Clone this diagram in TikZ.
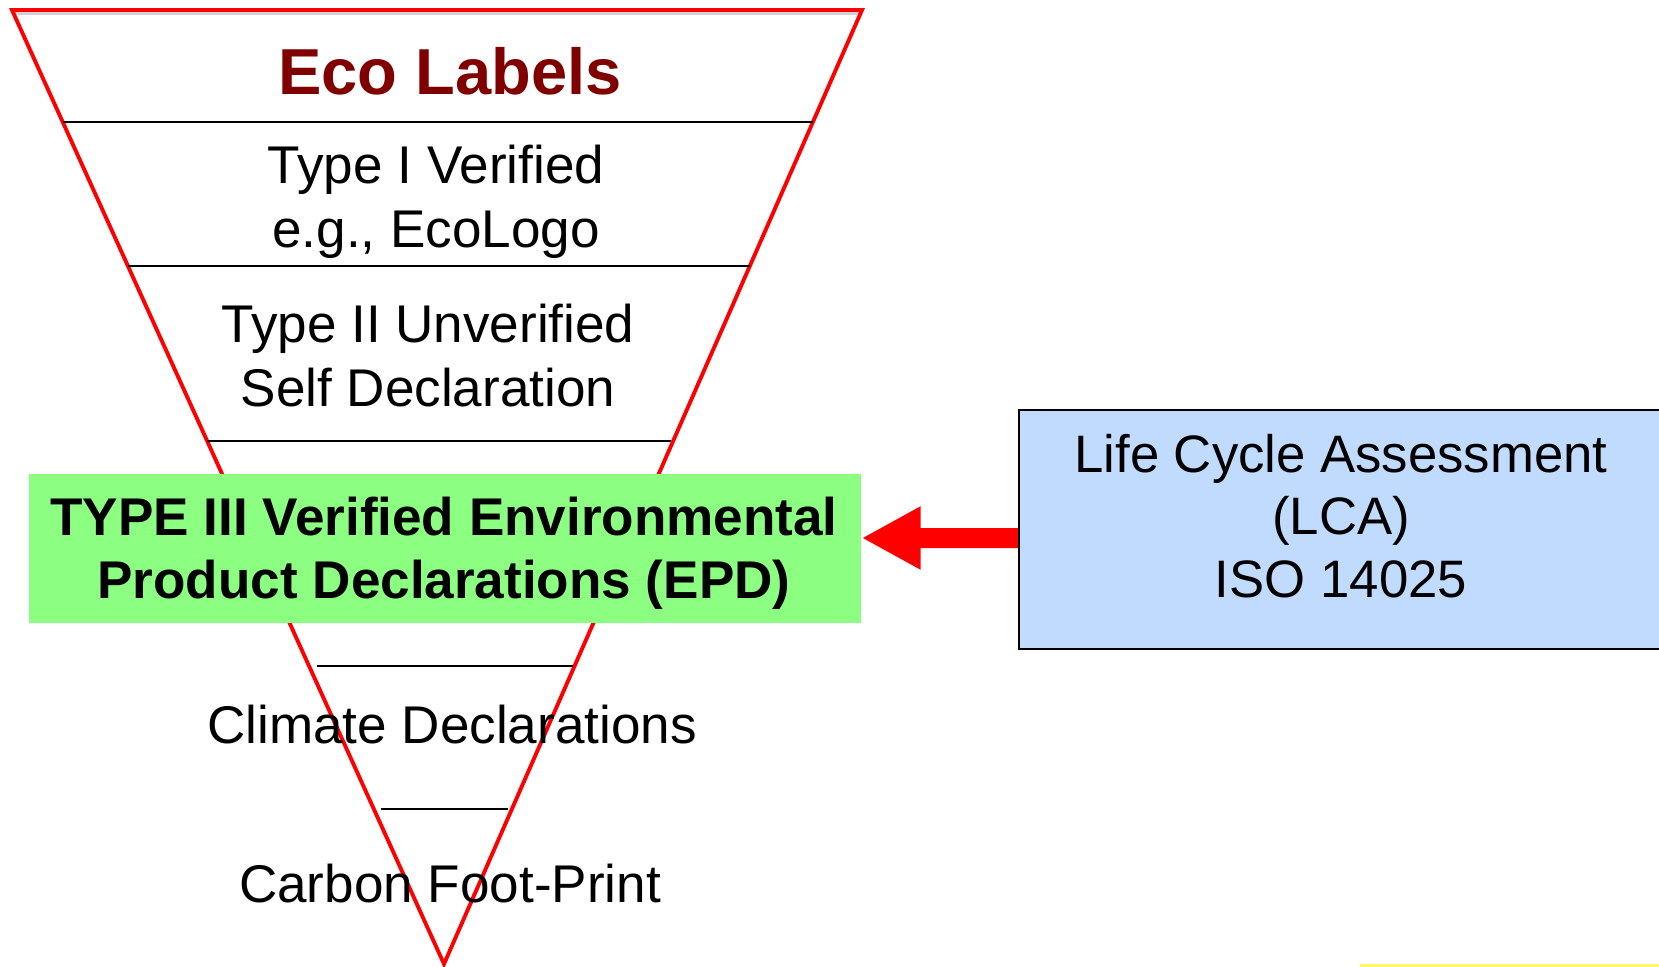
\documentclass[tikz,border=0pt]{standalone}
\usepackage{fontspec}
\setmainfont{Liberation Sans}
\usetikzlibrary{arrows.meta}
\usetikzlibrary{positioning}
\definecolor{ecored}{RGB}{128,0,0}
\definecolor{epdgreen}{RGB}{140,255,130}
\definecolor{lcablue}{RGB}{193,219,255}

\begin{document}
\begin{tikzpicture}[
  lvltext/.style={font=\fontsize{15.1}{18.2}\selectfont, align=center, inner sep=0pt},
  sepline/.style={black, line width=0.55pt},
  boldtext/.style={font=\bfseries\fontsize{15.1}{17.9}\selectfont, align=center, inner sep=0pt}
]
\useasboundingbox (0,0) rectangle (16.59,-9.67);
% funnel
\draw[gray!35, line width=1.1pt] (0.14,-0.13) -- (8.62,-0.13);
\draw[red, line width=1.1pt] (0.12,-0.10) -- (8.62,-0.10) -- (4.44,-9.64) -- cycle;
\draw[sepline] (0.63,-1.22) -- (8.13,-1.22);
\draw[sepline] (1.28,-2.66) -- (7.50,-2.66);
\draw[sepline] (2.07,-4.41) -- (6.71,-4.41);
\draw[sepline] (3.17,-6.66) -- (5.73,-6.66);
\draw[sepline] (3.81,-8.09) -- (5.08,-8.09);

\node[font=\bfseries\fontsize{18.5}{22}\selectfont, text=ecored, inner sep=0pt] (title) at (4.50,-0.715) {Eco Labels};
\node[lvltext] (typeone) at (4.36,-2.015) {Type I Verified\\e.g., EcoLogo};
\node[lvltext] (typetwo) at (4.28,-3.555) {Type II Unverified\\Self Declaration};

% type III band
\node[fill=epdgreen, minimum width=8.32cm, minimum height=1.49cm, inner sep=0pt] (epd) at (4.45,-5.485) {};
\node[boldtext] (epdtext) at (4.44,-5.535) {TYPE III Verified Environmental\\Product Declarations (EPD)};

\node[lvltext] (climate) at (4.52,-7.25) {Climate Declarations};
\node[lvltext] (carbon) at (4.50,-8.84) {Carbon Foot-Print};

% LCA box
\node[draw=black, line width=0.6pt, fill=lcablue, minimum width=6.46cm, minimum height=2.39cm, inner sep=0pt] (lca) at (13.42,-5.295) {};
\node[font=\fontsize{15}{17.8}\selectfont, align=center, inner sep=0pt] (lcatext) at (13.41,-5.16) {Life Cycle Assessment\\(LCA)\\ISO 14025};
\draw[red, line width=0.2cm, -{Triangle[length=0.59cm, width=0.59cm]}] ([yshift=-0.085cm]lca.west) -- ([yshift=0.105cm]epd.east);

\draw[yellow!60, line width=0.6pt] (13.60,-9.655) -- (16.59,-9.655);
\end{tikzpicture}
\end{document}
